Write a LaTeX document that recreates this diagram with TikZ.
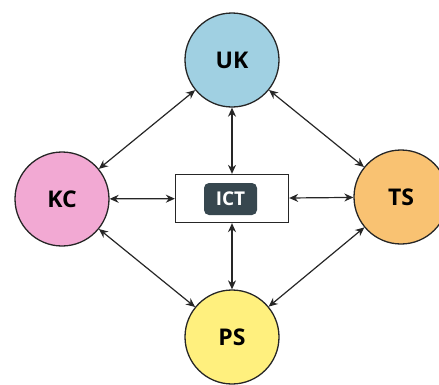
\documentclass[tikz,border=0pt]{standalone}
\usepackage{fontspec}
\setmainfont{Open Sans}
\usetikzlibrary{arrows.meta}
\definecolor{ukc}{HTML}{A0D0E2}
\definecolor{kcc}{HTML}{F2A9D3}
\definecolor{tsc}{HTML}{F9C272}
\definecolor{psc}{HTML}{FFF07E}
\definecolor{ictc}{HTML}{37474F}
\tikzset{
  hub/.style={circle, draw=black!85, line width=1.3pt, minimum size=94pt, inner sep=0pt,
    font=\fontsize{23}{26}\selectfont\bfseries},
  link/.style={{Stealth[length=9pt,width=8pt]}-{Stealth[length=9pt,width=8pt]}, line width=1.2pt, black!85},
  ictbox/.style={draw=black!85, line width=1.3pt, fill=white, minimum width=113pt, minimum height=48pt, inner sep=0pt},
  icttag/.style={fill=ictc, rounded corners=5pt, text=white, minimum width=53pt, minimum height=32pt, inner sep=0pt,
    font=\fontsize{19}{22}\selectfont\bfseries}
}
\begin{document}
\begin{tikzpicture}[x=1pt,y=-1pt]
\useasboundingbox (0,0) rectangle (439,384);
\node[hub, fill=ukc] (uk) at (232,60) {UK};
\node[hub, fill=kcc] (kc) at (62,199) {KC};
\node[hub, fill=tsc] (ts) at (401,197) {TS};
\node[hub, fill=psc] (ps) at (232,337) {PS};
\node[ictbox] (ict) at (232,198.5) {};
\node[icttag] (tag) at (230.5,199) {ICT};
\draw[link] (uk) -- (kc);
\draw[link] (uk) -- (ts);
\draw[link] (kc) -- (ps);
\draw[link] (ts) -- (ps);
\draw[link] (ict) -- (uk);
\draw[link] (ict) -- (ps);
\draw[link] (ict) -- (kc);
\draw[link] (ict) -- (ts);
\end{tikzpicture}
\end{document}
